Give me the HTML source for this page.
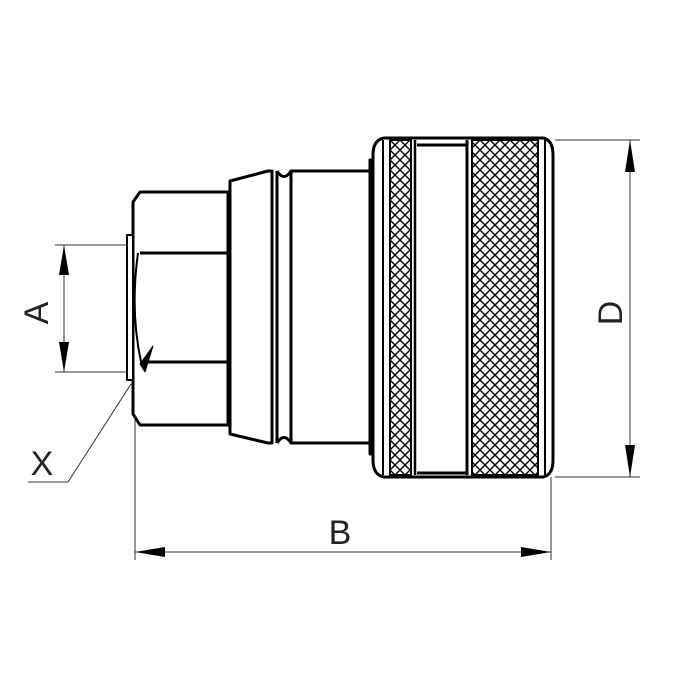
<!DOCTYPE html>
<html><head><style>html,body{margin:0;padding:0;background:#fff}svg{display:block}</style></head>
<body>
<svg width="700" height="700" viewBox="0 0 700 700" xmlns="http://www.w3.org/2000/svg">
<defs>
<pattern id="kn" width="10" height="10" patternUnits="userSpaceOnUse">
<path d="M0,0 L10,10 M10,0 L0,10" stroke="#000" stroke-width="1.4"/>
</pattern>
</defs>
<g fill="none" stroke="#000" stroke-width="3" stroke-linejoin="round">
<path d="M140,192 L228,192 L228,425 L140,425 L133,414 L133,202 Z" fill="#fff"/>
<line x1="140" y1="253" x2="228" y2="253"/>
<line x1="140" y1="362" x2="228" y2="362"/>
<path d="M138,253 Q130,310 141,362" stroke-width="2"/>
<path d="M140,364 L153,346 L145,372 Z" fill="#000" stroke-width="1"/>
<rect x="127" y="235" width="6" height="145" fill="#fff" stroke-width="2"/>
<path d="M230,181 L268,171 L272,171 L272,443 L268,443 L230,434 Z" fill="#fff"/>
<line x1="277" y1="171" x2="277" y2="443"/>
<path d="M277,171 Q284,182 291,171 M277,443 Q284,432 291,443"/>
<rect x="291" y="171" width="79" height="272" fill="#fff"/>
<rect x="370" y="160" width="5" height="294" fill="#000"/>
<path d="M384,138 L543,138 Q553,140 553,155 L553,460 Q553,475 543,477 L384,477 Q373,475 373,460 L373,155 Q373,140 384,138 Z" fill="#fff"/>
<rect x="390" y="140" width="21" height="335" fill="url(#kn)" stroke-width="2"/>
<line x1="383" y1="140" x2="383" y2="475" stroke-width="2"/>
<line x1="415" y1="140" x2="415" y2="475" stroke-width="2.5"/>
<line x1="417" y1="145" x2="467" y2="145"/>
<line x1="417" y1="473" x2="467" y2="473"/>
<rect x="472" y="140" width="66" height="335" fill="url(#kn)" stroke-width="2"/>
<line x1="467" y1="140" x2="467" y2="475"/>
<line x1="545" y1="140" x2="545" y2="475" stroke-width="2"/>
</g>
<g stroke="#333" stroke-width="1" fill="none">
<line x1="555" y1="140" x2="640" y2="140"/>
<line x1="555" y1="477" x2="640" y2="477"/>
<line x1="630" y1="140" x2="630" y2="477"/>
<line x1="55" y1="245" x2="127" y2="245"/>
<line x1="55" y1="372" x2="127" y2="372"/>
<line x1="64" y1="245" x2="64" y2="372"/>
<line x1="135" y1="420" x2="135" y2="560"/>
<line x1="551" y1="477" x2="551" y2="560"/>
<line x1="135" y1="552" x2="551" y2="552"/>
<polyline points="28,482 68,482 131,384"/>
</g>
<g fill="#000">
<polygon points="630,140 625,172 635,172"/>
<polygon points="630,477 625,445 635,445"/>
<polygon points="64,245 59,275 69,275"/>
<polygon points="64,372 59,342 69,342"/>
<polygon points="135,552 165,547 165,557"/>
<polygon points="551,552 521,547 521,557"/>
</g>
<g font-family="Liberation Sans, sans-serif" font-size="34" fill="#222">
<text x="340" y="544" text-anchor="middle">B</text>
<text x="42" y="475" text-anchor="middle">X</text>
<text transform="translate(48,313) rotate(-90)" text-anchor="middle">A</text>
<text transform="translate(622,313) rotate(-90)" text-anchor="middle">D</text>
</g>
</svg>
</body></html>
